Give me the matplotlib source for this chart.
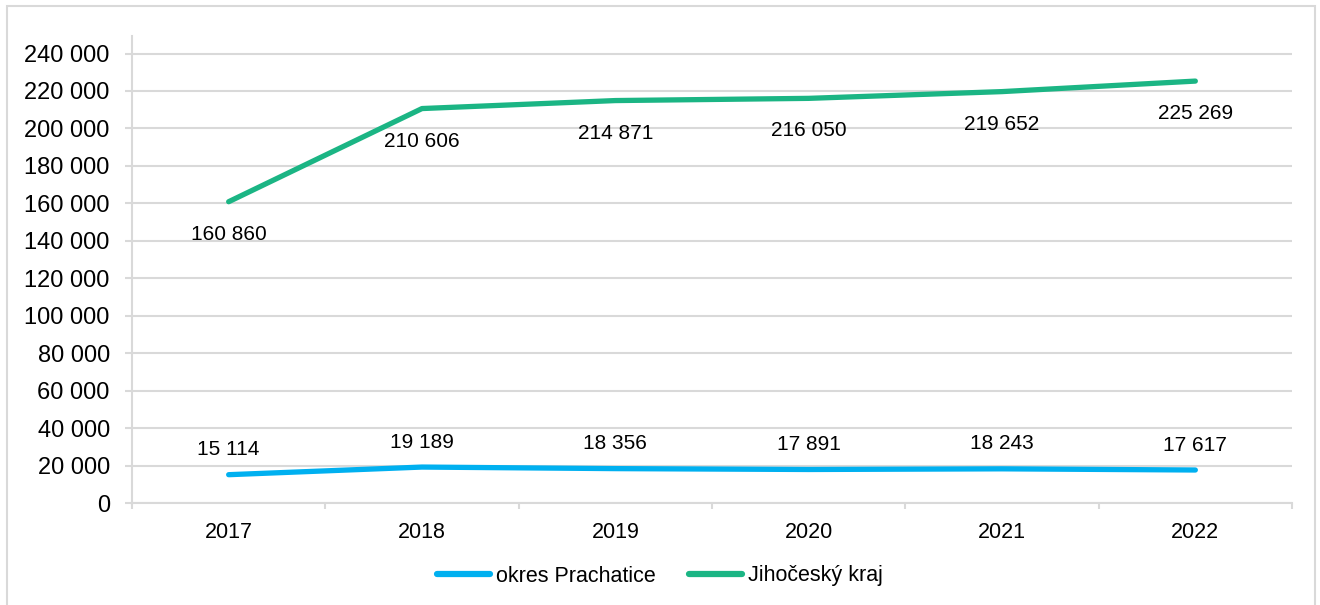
import numpy as np
import matplotlib
matplotlib.use("Agg")
import matplotlib.pyplot as plt
from matplotlib.patches import Rectangle
from matplotlib.ticker import FuncFormatter, FixedLocator

plt.rcParams['font.family'] = ['Liberation Sans', 'DejaVu Sans']

years = ['2017', '2018', '2019', '2020', '2021', '2022']
prachatice = [15114, 19189, 18356, 17891, 18243, 17617]
jihocesky = [160860, 210606, 214871, 216050, 219652, 225269]
y_ticks = list(range(0, 240001, 20000))

blue = '#00B0F0'
green = '#1BB584'
grid_col = '#D9D9D9'


def space_thousands(v, pos=None):
    return f"{int(v):,}".replace(',', ' ')


fig = plt.figure(figsize=(13.2, 6.05), dpi=100)
fig.patches.append(Rectangle((7 / 1320, -0.01), 1308 / 1320, 1 - 6 / 605 + 0.01,
                             transform=fig.transFigure, fill=False,
                             edgecolor=grid_col, linewidth=1.5))

ax = fig.add_axes([132 / 1320, 1 - 503 / 605, 1160 / 1320, 467 / 605])
x = np.arange(len(years))

ax.plot(x, prachatice, color=blue, linewidth=3.8, solid_capstyle='round',
        label='okres Prachatice', zorder=3)
ax.plot(x, jihocesky, color=green, linewidth=3.8, solid_capstyle='round',
        label='Jihočeský kraj', zorder=3)

# popisky dat: okres nad čarou, kraj pod čarou
for xi, v in zip(x, prachatice):
    ax.annotate(space_thousands(v), (xi, v), xytext=(0, 18), textcoords='offset points',
                ha='center', va='center', fontsize=15)
for xi, v in zip(x, jihocesky):
    ax.annotate(space_thousands(v), (xi, v), xytext=(0, -23.5), textcoords='offset points',
                ha='center', va='center', fontsize=15)

ax.set_xlim(-0.5, len(years) - 0.5)
ax.set_ylim(0, 240000 * 467 / 449.5)

ax.yaxis.set_major_locator(FixedLocator(y_ticks))
ax.yaxis.set_major_formatter(FuncFormatter(space_thousands))
ax.set_xticks(x)
ax.set_xticklabels(years)
ax.set_xticks(np.arange(-0.5, len(years)), minor=True)

ax.grid(axis='y', color=grid_col, linewidth=1.5, zorder=0)
ax.set_axisbelow(True)

for side in ['top', 'right']:
    ax.spines[side].set_visible(False)
for side in ['left', 'bottom']:
    ax.spines[side].set_color(grid_col)
    ax.spines[side].set_linewidth(1.5)

ax.tick_params(axis='y', direction='out', length=5, width=1.5, color=grid_col,
               labelsize=17, pad=11)
ax.tick_params(axis='x', which='major', length=0, labelsize=15.5, pad=14)
ax.tick_params(axis='x', which='minor', direction='out', length=4, width=1.5,
               color=grid_col)

leg = fig.legend(loc='center', bbox_to_anchor=(0.5, 1 - 576 / 605), ncol=2,
                 frameon=False, fontsize=15.5, handlelength=2.45,
                 handletextpad=0.3, columnspacing=1.55)
for line in leg.get_lines():
    line.set_linewidth(4.5)

fig.savefig('out.png', dpi=100)
